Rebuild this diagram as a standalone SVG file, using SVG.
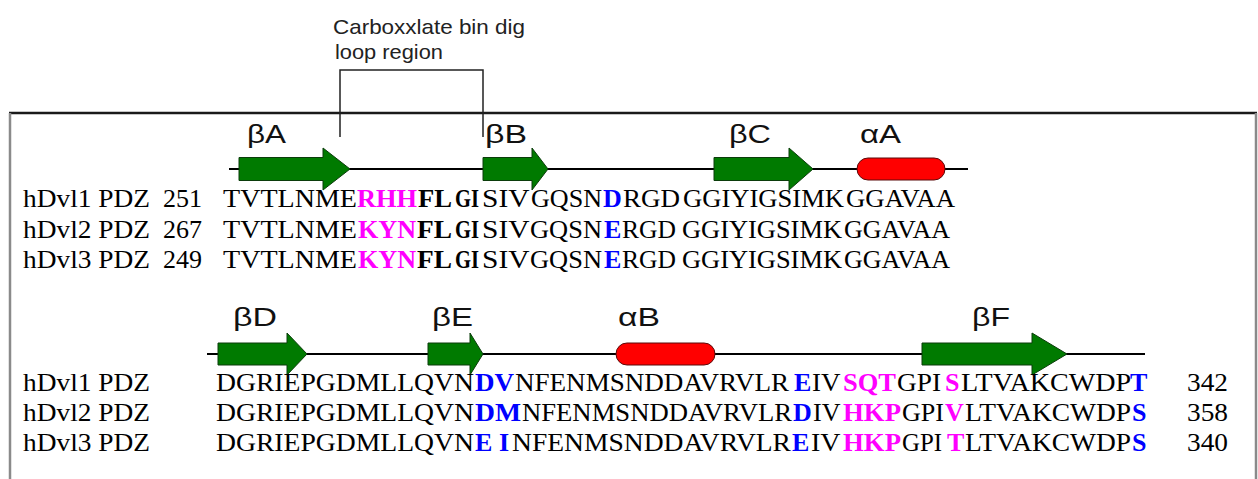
<svg xmlns="http://www.w3.org/2000/svg" width="1258" height="479" viewBox="0 0 1258 479">
  <style>
    .note { font-family: "Liberation Sans", Arial, sans-serif; font-size: 21px; fill: #222; }
    .ss { font-family: "Liberation Sans", Arial, sans-serif; font-size: 26px; fill: #111; }
    .seq { font-family: "Liberation Serif", "Times New Roman", serif; font-size: 26px; fill: #000; }
    .b { font-weight: bold; }
    .m { fill: #ff00ff; font-weight: bold; }
    .bl { fill: #0000ff; font-weight: bold; }
    .strand { fill: #007a00; stroke: #0b3d0b; stroke-width: 1; }
    .helix { fill: #ff0000; stroke: #5a0a0a; stroke-width: 1; }
    .backbone { stroke: #000; stroke-width: 2; fill: none; }
    .frame-top { stroke: #1a1a1a; stroke-width: 2.5; }
    .frame-side { stroke: #8a8a8a; stroke-width: 2.5; }
    .bracket { stroke: #222; stroke-width: 1.5; fill: none; }
  </style>

  <rect width="1258" height="479" fill="#fff"/>

  <!-- open frame around the alignment -->
  <g id="frame">
    <line class="frame-top" x1="9" y1="113" x2="1257" y2="113"/>
    <line class="frame-side" x1="10" y1="113" x2="10" y2="479"/>
    <line class="frame-side" x1="1256" y1="113" x2="1256" y2="479"/>
  </g>

  <!-- loop annotation -->
  <g id="loop-annotation">
    <text class="note" x="333" y="34" textLength="192" lengthAdjust="spacingAndGlyphs">Carboxxlate bin dig</text>
    <text class="note" x="335" y="59" textLength="108" lengthAdjust="spacingAndGlyphs">loop region</text>
    <polyline class="bracket" points="340,137 340,70 483,70 483,137"/>
  </g>

  <!-- backbone lines -->
  <g id="connectors">
    <line class="backbone" x1="229" y1="169" x2="968" y2="169"/>
    <line class="backbone" x1="207" y1="354" x2="1145" y2="354"/>
  </g>

  <!-- secondary structure, block 1 -->
  <g id="strand-bA">
    <path class="strand" d="M239,157.5 H323 V148 L350,169 L323,190 V180.5 H239 Z"/>
    <text class="ss" x="247" y="143" textLength="39" lengthAdjust="spacingAndGlyphs">βA</text>
  </g>
  <g id="strand-bB">
    <path class="strand" d="M483,157.5 H532 V148 L548,169 L532,190 V180.5 H483 Z"/>
    <text class="ss" x="485" y="143" textLength="42" lengthAdjust="spacingAndGlyphs">βB</text>
  </g>
  <g id="strand-bC">
    <path class="strand" d="M714,157.5 H789 V148 L813,169 L789,190 V180.5 H714 Z"/>
    <text class="ss" x="729" y="143" textLength="42" lengthAdjust="spacingAndGlyphs">βC</text>
  </g>
  <g id="helix-aA">
    <rect class="helix" x="857" y="158" width="88" height="22" rx="11"/>
    <text class="ss" x="860" y="143" textLength="41" lengthAdjust="spacingAndGlyphs">αA</text>
  </g>

  <!-- secondary structure, block 2 -->
  <g id="strand-bD">
    <path class="strand" d="M218,343 H287 V333 L307,354 L287,375 V365 H218 Z"/>
    <text class="ss" x="233" y="326" textLength="44" lengthAdjust="spacingAndGlyphs">βD</text>
  </g>
  <g id="strand-bE">
    <path class="strand" d="M428,343 H470 V333 L483,354 L470,375 V365 H428 Z"/>
    <text class="ss" x="432" y="326" textLength="41" lengthAdjust="spacingAndGlyphs">βE</text>
  </g>
  <g id="helix-aB">
    <rect class="helix" x="616" y="343" width="99" height="22" rx="11"/>
    <text class="ss" x="618" y="326" textLength="42" lengthAdjust="spacingAndGlyphs">αB</text>
  </g>
  <g id="strand-bF">
    <path class="strand" d="M922,343 H1032 V333 L1067,354 L1032,375 V365 H922 Z"/>
    <text class="ss" x="972" y="326" textLength="38" lengthAdjust="spacingAndGlyphs">βF</text>
  </g>

  <!-- alignment, block 1 (residues 249-267 onward) -->
  <g id="seq-block1">
    <text class="seq" y="207">
      <tspan x="23" textLength="127" lengthAdjust="spacingAndGlyphs">hDvl1 PDZ</tspan>
      <tspan x="163" textLength="39" lengthAdjust="spacingAndGlyphs">251</tspan>
      <tspan x="223" textLength="134" lengthAdjust="spacingAndGlyphs">TVTLNME</tspan>
      <tspan class="m" x="357" textLength="60" lengthAdjust="spacingAndGlyphs">RHH</tspan>
      <tspan class="b" x="418" textLength="34" lengthAdjust="spacingAndGlyphs">FL</tspan>
      <tspan class="b" x="455" textLength="24" lengthAdjust="spacingAndGlyphs">GI</tspan>
      <tspan x="482" textLength="47" lengthAdjust="spacingAndGlyphs">SIV</tspan>
      <tspan x="531" textLength="71" lengthAdjust="spacingAndGlyphs">GQSN</tspan>
      <tspan class="bl" x="603">D</tspan>
      <tspan x="623" textLength="57" lengthAdjust="spacingAndGlyphs">RGD</tspan>
      <tspan x="683" textLength="161" lengthAdjust="spacingAndGlyphs">GGIYIGSIMK</tspan>
      <tspan x="846" textLength="109" lengthAdjust="spacingAndGlyphs">GGAVAA</tspan>
    </text>
    <text class="seq" y="238">
      <tspan x="23" textLength="127" lengthAdjust="spacingAndGlyphs">hDvl2 PDZ</tspan>
      <tspan x="163" textLength="39" lengthAdjust="spacingAndGlyphs">267</tspan>
      <tspan x="223" textLength="134" lengthAdjust="spacingAndGlyphs">TVTLNME</tspan>
      <tspan class="m" x="358" textLength="58" lengthAdjust="spacingAndGlyphs">KYN</tspan>
      <tspan class="b" x="417" textLength="35" lengthAdjust="spacingAndGlyphs">FL</tspan>
      <tspan class="b" x="455" textLength="24" lengthAdjust="spacingAndGlyphs">GI</tspan>
      <tspan x="482" textLength="47" lengthAdjust="spacingAndGlyphs">SIV</tspan>
      <tspan x="530" textLength="72" lengthAdjust="spacingAndGlyphs">GQSN</tspan>
      <tspan class="bl" x="604">E</tspan>
      <tspan x="622" textLength="54" lengthAdjust="spacingAndGlyphs">RGD</tspan>
      <tspan x="682" textLength="160" lengthAdjust="spacingAndGlyphs">GGIYIGSIMK</tspan>
      <tspan x="844" textLength="106" lengthAdjust="spacingAndGlyphs">GGAVAA</tspan>
    </text>
    <text class="seq" y="268">
      <tspan x="23" textLength="127" lengthAdjust="spacingAndGlyphs">hDvl3 PDZ</tspan>
      <tspan x="163" textLength="39" lengthAdjust="spacingAndGlyphs">249</tspan>
      <tspan x="223" textLength="134" lengthAdjust="spacingAndGlyphs">TVTLNME</tspan>
      <tspan class="m" x="358" textLength="58" lengthAdjust="spacingAndGlyphs">KYN</tspan>
      <tspan class="b" x="417" textLength="35" lengthAdjust="spacingAndGlyphs">FL</tspan>
      <tspan class="b" x="455" textLength="24" lengthAdjust="spacingAndGlyphs">GI</tspan>
      <tspan x="482" textLength="47" lengthAdjust="spacingAndGlyphs">SIV</tspan>
      <tspan x="530" textLength="72" lengthAdjust="spacingAndGlyphs">GQSN</tspan>
      <tspan class="bl" x="604">E</tspan>
      <tspan x="622" textLength="54" lengthAdjust="spacingAndGlyphs">RGD</tspan>
      <tspan x="682" textLength="160" lengthAdjust="spacingAndGlyphs">GGIYIGSIMK</tspan>
      <tspan x="844" textLength="106" lengthAdjust="spacingAndGlyphs">GGAVAA</tspan>
    </text>
  </g>

  <!-- alignment, block 2 (to residues 340-358) -->
  <g id="seq-block2">
    <text class="seq" y="391">
      <tspan x="23" textLength="127" lengthAdjust="spacingAndGlyphs">hDvl1 PDZ</tspan>
      <tspan x="216" textLength="258" lengthAdjust="spacingAndGlyphs">DGRIEPGDMLLQVN</tspan>
      <tspan class="bl" x="475" textLength="39" lengthAdjust="spacingAndGlyphs">DV</tspan>
      <tspan x="515" textLength="274" lengthAdjust="spacingAndGlyphs">NFENMSNDDAVRVLR</tspan>
      <tspan class="bl" x="794">E</tspan>
      <tspan x="812" textLength="28" lengthAdjust="spacingAndGlyphs">IV</tspan>
      <tspan class="m" x="843" textLength="53" lengthAdjust="spacingAndGlyphs">SQT</tspan>
      <tspan x="897" textLength="44" lengthAdjust="spacingAndGlyphs">GPI</tspan>
      <tspan class="m" x="945">S</tspan>
      <tspan x="961" textLength="169" lengthAdjust="spacingAndGlyphs">LTVAKCWDP</tspan>
      <tspan class="bl" x="1130">T</tspan>
      <tspan x="1187" textLength="41" lengthAdjust="spacingAndGlyphs">342</tspan>
    </text>
    <text class="seq" y="421">
      <tspan x="23" textLength="127" lengthAdjust="spacingAndGlyphs">hDvl2 PDZ</tspan>
      <tspan x="216" textLength="258" lengthAdjust="spacingAndGlyphs">DGRIEPGDMLLQVN</tspan>
      <tspan class="bl" x="475" textLength="46" lengthAdjust="spacingAndGlyphs">DM</tspan>
      <tspan x="522" textLength="270" lengthAdjust="spacingAndGlyphs">NFENMSNDDAVRVLR</tspan>
      <tspan class="bl" x="793">D</tspan>
      <tspan x="813" textLength="27" lengthAdjust="spacingAndGlyphs">IV</tspan>
      <tspan class="m" x="843" textLength="58" lengthAdjust="spacingAndGlyphs">HKP</tspan>
      <tspan x="902" textLength="42" lengthAdjust="spacingAndGlyphs">GPI</tspan>
      <tspan class="m" x="945">V</tspan>
      <tspan x="965" textLength="165" lengthAdjust="spacingAndGlyphs">LTVAKCWDP</tspan>
      <tspan class="bl" x="1132">S</tspan>
      <tspan x="1187" textLength="41" lengthAdjust="spacingAndGlyphs">358</tspan>
    </text>
    <text class="seq" y="451">
      <tspan x="23" textLength="127" lengthAdjust="spacingAndGlyphs">hDvl3 PDZ</tspan>
      <tspan x="216" textLength="258" lengthAdjust="spacingAndGlyphs">DGRIEPGDMLLQVN</tspan>
      <tspan class="bl" x="475">E</tspan>
      <tspan class="bl" x="499">I</tspan>
      <tspan x="512" textLength="279" lengthAdjust="spacingAndGlyphs">NFENMSNDDAVRVLR</tspan>
      <tspan class="bl" x="792">E</tspan>
      <tspan x="811" textLength="29" lengthAdjust="spacingAndGlyphs">IV</tspan>
      <tspan class="m" x="843" textLength="58" lengthAdjust="spacingAndGlyphs">HKP</tspan>
      <tspan x="902" textLength="40" lengthAdjust="spacingAndGlyphs">GPI</tspan>
      <tspan class="m" x="947">T</tspan>
      <tspan x="965" textLength="165" lengthAdjust="spacingAndGlyphs">LTVAKCWDP</tspan>
      <tspan class="bl" x="1132">S</tspan>
      <tspan x="1187" textLength="41" lengthAdjust="spacingAndGlyphs">340</tspan>
    </text>
  </g>
</svg>
